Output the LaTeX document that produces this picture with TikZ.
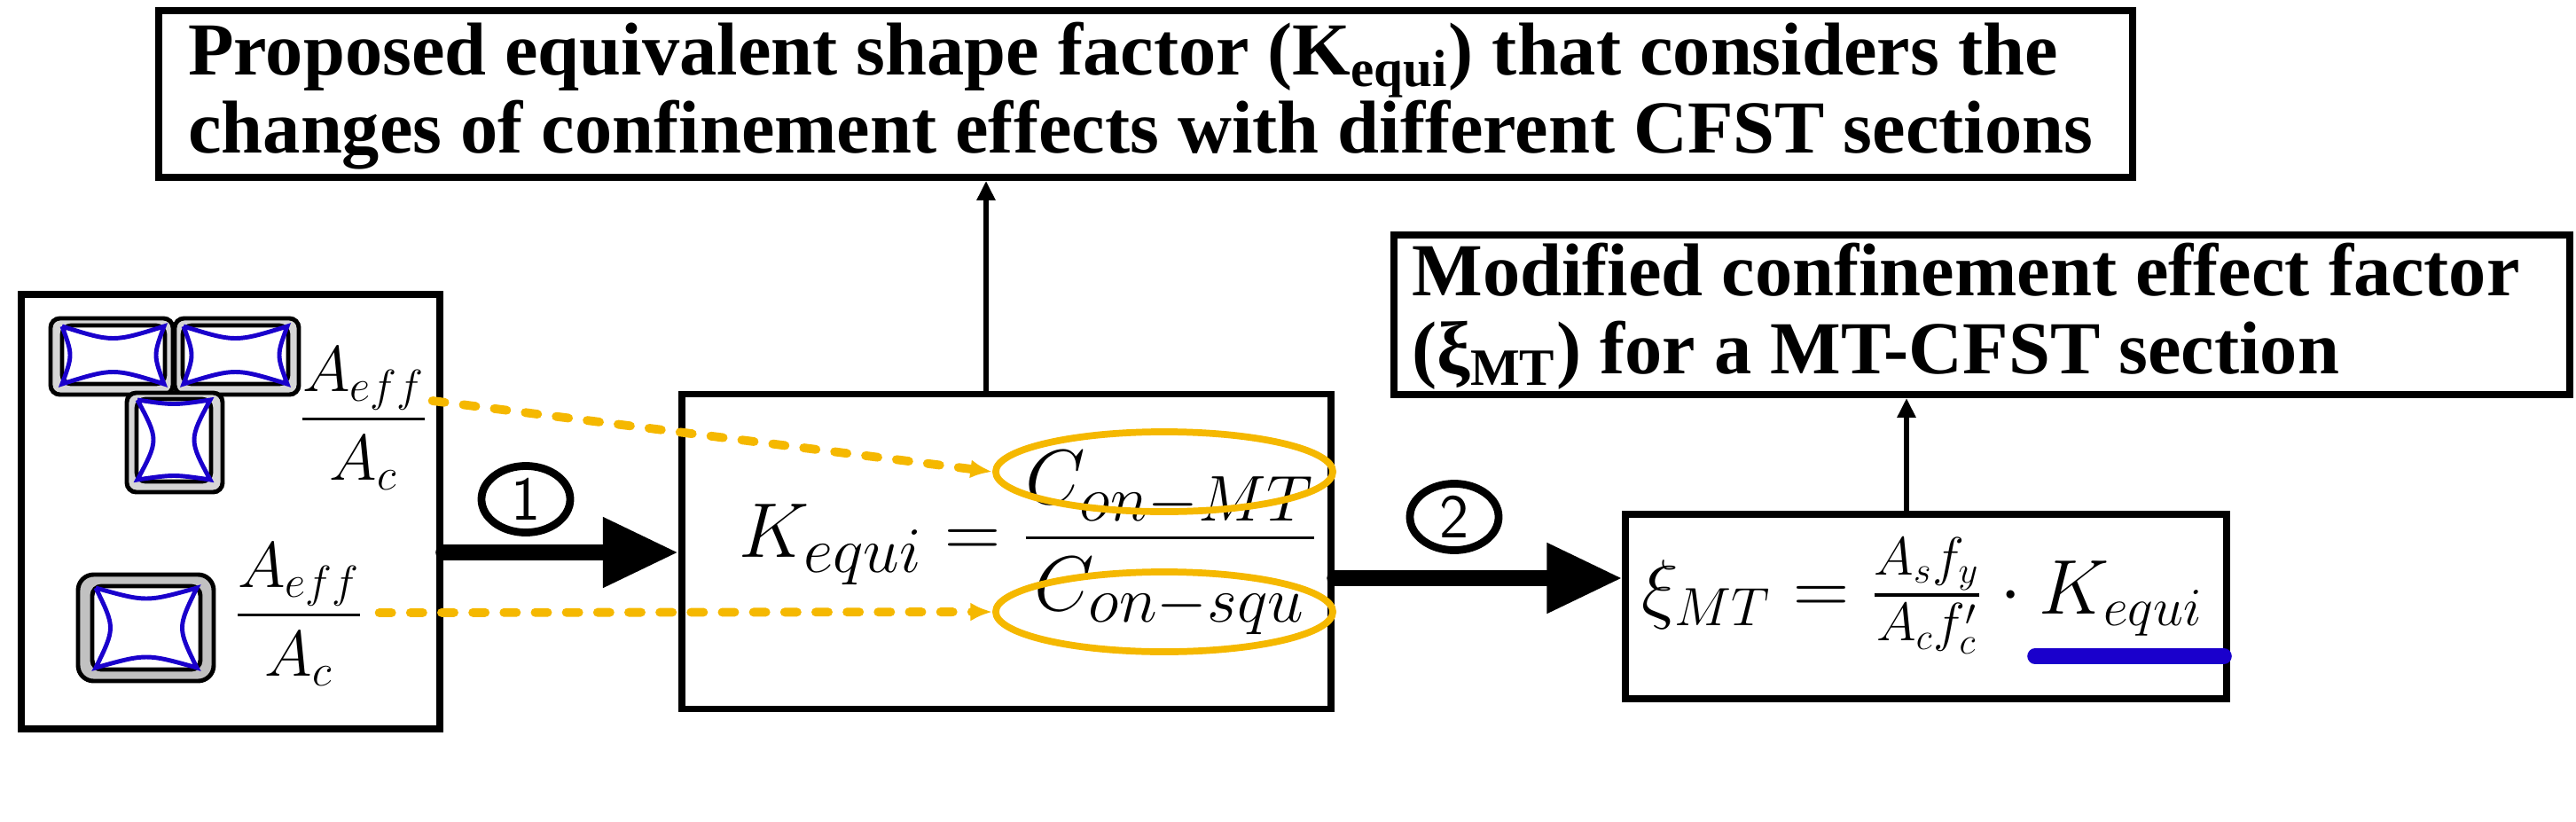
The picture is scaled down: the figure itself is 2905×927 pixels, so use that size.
\documentclass[tikz,border=0pt]{standalone}
\usepackage{amsmath}
\usepackage{fontspec}
\setmainfont{Liberation Serif}
\usetikzlibrary{arrows.meta,shapes.geometric}
\definecolor{orng}{HTML}{F5B800}
\definecolor{bl}{HTML}{1A00CC}
\definecolor{gr}{HTML}{D6D6D6}
\newcommand\confcell[6]{% inner x1 y1 x2 y2, depth h, depth v
  \pgfmathsetmacro\mx{(#1+#3)/2}\pgfmathsetmacro\my{(#2+#4)/2}
  \draw[bl,line width=1.4pt] (#1,#2) .. controls (\mx,#2+2*#5) .. (#3,#2)
     .. controls (#3-2*#6,\my) .. (#3,#4)
     .. controls (\mx,#4-2*#5) .. (#1,#4)
     .. controls (#1+2*#6,\my) .. (#1,#2);}
\begin{document}
\begin{tikzpicture}[x=0.01cm,y=-0.01cm,
  box/.style={draw,line width=2.2pt,inner sep=0pt},
  ttext/.style={font=\fontsize{24}{25}\selectfont\bfseries,align=left},
  big/.style={-{Triangle[length=0.85cm,width=0.75cm]},line width=5pt,line cap=round},
  thin/.style={-{Triangle[length=0.22cm,width=0.2cm]},line width=1.8pt},
  num/.style={draw,ellipse,line width=2.5pt,minimum width=1cm,minimum height=0.75cm,inner sep=0pt,font=\sffamily\fontsize{20}{20}\selectfont},
  ov/.style={draw=orng,ellipse,line width=2.2pt,minimum width=3.8cm,minimum height=0.9cm},
  dots/.style={orng,line width=2.8pt,dash pattern=on 4pt off 6pt,line cap=round,-{Latex[length=7pt,width=6pt]}},
  mth/.style={font=\fontsize{30}{32}\selectfont},
  mth2/.style={font=\fontsize{25}{28}\selectfont},
  frac/.style={font=\fontsize{22}{24}\selectfont}]
\useasboundingbox (0,0) rectangle (2905,927);
% boxes
\node[box,minimum width=22.25cm,minimum height=1.88cm] (top) at (1292,106) {};
\node[ttext,anchor=west] (toptxt) at (200,108) {Proposed equivalent shape factor (K\textsubscript{equi}) that considers the\\changes of confinement effects with different CFST sections};
\node[box,minimum width=13.25cm,minimum height=1.8cm] (tr) at (2235,355) {};
\node[ttext,anchor=west] (trtxt) at (1580,357) {Modified confinement effect factor\\(ξ\textsubscript{MT}) for a MT-CFST section};
\node[box,minimum width=4.72cm,minimum height=4.89cm] (left) at (260,577) {};
\node[box,minimum width=7.32cm,minimum height=3.55cm] (mid) at (1135,622) {};
\node[box,minimum width=6.77cm,minimum height=2.08cm] (right) at (2172,684) {};
% formulas
\node[mth] (keq) at (1160,612) {$K_{equi}=\dfrac{C_{on-MT}}{C_{on-squ}}$};
\node[ov] (e1) at (1313,532) {};
\node[ov] (e2) at (1313,690) {};
\node[mth2] (xi) at (2168,672) {$\xi_{MT}=\frac{A_sf_y}{A_cf'_c}\cdot K_{equi}$};
\coordinate (u1) at (2295,740); \coordinate (u2) at (2508,740);
\draw[bl,line width=5pt,line cap=round] (u1) -- (u2);
\node[frac] (f1) at (410,472) {$\dfrac{A_{eff}}{A_c}$};
\node[frac] (f2) at (337,693) {$\dfrac{A_{eff}}{A_c}$};
% sections
\draw[line width=1.4pt,fill=gr,rounded corners=3pt] (57,359) rectangle (195,445);
\draw[line width=1.4pt,fill=gr,rounded corners=3pt] (197,359) rectangle (337,445);
\draw[line width=1.4pt,fill=gr,rounded corners=3pt] (143,443) rectangle (251,555);
\draw[line width=1.4pt,fill=white,rounded corners=3pt] (70,367) rectangle (186,433);
\draw[line width=1.4pt,fill=white,rounded corners=3pt] (206,367) rectangle (325,433);
\draw[line width=1.4pt,fill=white,rounded corners=3pt] (154,450) rectangle (238,543);
\confcell{70}{368}{185}{433}{9}{6}
\confcell{207}{368}{324}{433}{9}{6}
\confcell{155}{451}{237}{541}{3}{12}
\draw[line width=1.4pt,fill=gr!90!black,rounded corners=5pt] (88,648) rectangle (241,768);
\draw[line width=1.4pt,fill=white,rounded corners=3pt] (104,661) rectangle (226,755);
\confcell{108}{663}{222}{753}{8}{11}
% connectors
\draw[big] (left.east |- 0,623) -- (mid.west |- 0,623);
\node[num] (n1) at (593,563) {1};
\draw[big] (mid.east |- 0,652) -- (right.west |- 0,652);
\node[num] (n2) at (1640,583) {2};
\draw[thin] (mid.north -| 1112,0) -- (top.south -| 1112,0);
\draw[thin] (right.north -| 2150,0) -- (tr.south -| 2150,0);
\draw[dots] (f1.east) ++(-8,-20) -- (e1.west);
\draw[dots] (f2.east) ++(5,-2) -- (e2.west);
\end{tikzpicture}
\end{document}
